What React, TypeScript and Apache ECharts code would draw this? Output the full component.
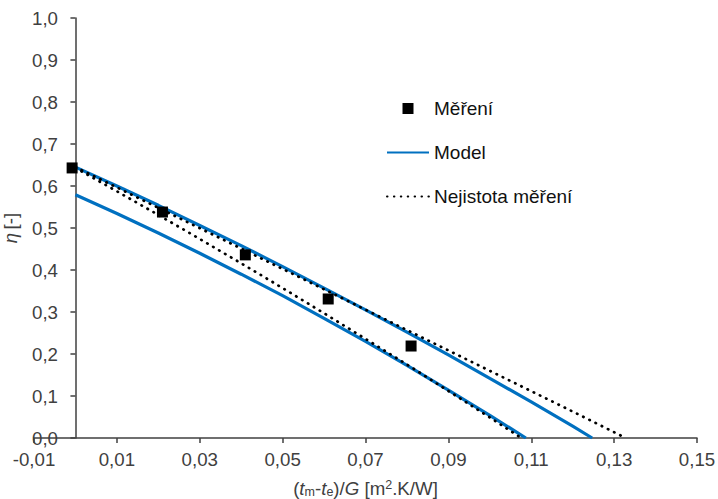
import React, { useEffect, useRef } from "react";
import * as echarts from "echarts";

// Measured points (x = (tm-te)/G, y = eta)
const measX = [-0.0008, 0.021, 0.041, 0.061, 0.081];
const measY = [0.643, 0.538, 0.436, 0.331, 0.219];

// Model curves
const modelUpperX = [0, 0.01, 0.02, 0.03, 0.04, 0.05, 0.06, 0.07, 0.08, 0.09, 0.1, 0.11, 0.12, 0.1247];
const modelUpperY = [0.645, 0.6, 0.554, 0.506, 0.458, 0.408, 0.357, 0.305, 0.252, 0.198, 0.142, 0.086, 0.028, 0];
const modelLowerX = [0, 0.01, 0.02, 0.03, 0.04, 0.05, 0.06, 0.07, 0.08, 0.09, 0.1, 0.1087];
const modelLowerY = [0.579, 0.5345, 0.488, 0.44, 0.39, 0.339, 0.285, 0.23, 0.173, 0.114, 0.054, 0];

// Measurement uncertainty curves
const uncUpperX = [0, 0.02, 0.04, 0.06, 0.08, 0.1, 0.12, 0.1328];
const uncUpperY = [0.645, 0.548, 0.451, 0.354, 0.257, 0.16, 0.063, 0];
const uncLowerX = [0, 0.01, 0.02, 0.03, 0.04, 0.05, 0.06, 0.07, 0.08, 0.09, 0.1, 0.1076];
const uncLowerY = [0.643, 0.5875, 0.531, 0.474, 0.416, 0.357, 0.297, 0.236, 0.175, 0.112, 0.049, 0];

const legendNames = ["Měření", "Model", "Nejistota měření"];

const zip = (xs: number[], ys: number[]) => xs.map((x, i) => [x, ys[i]]);

const FONT = "'Liberation Sans', Arial, sans-serif";
const TXT = "#404040";
const BLUE = "#0070C0";

export default function App() {
  const ref = useRef<HTMLDivElement>(null);
  useEffect(() => {
    if (!ref.current) return;
    const chart = echarts.init(ref.current, undefined, { renderer: "svg" });
    const base = { fontFamily: FONT, fontSize: 18.7, color: TXT, lineHeight: 20 };
    const dotted = { color: "#000", width: 2.7, type: [0.5, 6.4] as any, cap: "round" as any };
    chart.setOption({
      animation: false,
      backgroundColor: "#fff",
      grid: { left: 34, right: 21, top: 18, bottom: 61, containLabel: false, outerBoundsMode: "none" },
      legend: {
        orient: "vertical",
        left: 386,
        top: 99,
        padding: 0,
        itemWidth: 42,
        itemHeight: 11,
        itemGap: 25,
        textStyle: { fontFamily: FONT, fontSize: 19, color: "#111" },
        data: [
          { name: legendNames[0], icon: "path://M0,0L10,0L10,10L0,10Z", itemStyle: { color: "#000", opacity: 1 } },
          { name: legendNames[1], itemStyle: { opacity: 0 } },
          { name: legendNames[2], itemStyle: { opacity: 0 } },
        ],
      },
      xAxis: {
        type: "value",
        min: -0.01,
        max: 0.15,
        interval: 0.02,
        splitLine: { show: false },
        axisLine: { onZero: true, lineStyle: { color: TXT, width: 1.5 } },
        axisTick: { show: true, length: 5, lineStyle: { color: TXT, width: 1.5 } },
        axisLabel: {
          margin: 12,
          fontFamily: FONT,
          fontSize: 18.7,
          color: TXT,
          formatter: (v: number) => v.toFixed(2).replace(".", ","),
        },
        name: "{p|(}{i|t}{sub|m}{p|-}{i|t}{sub|e}{p|)/}{i|G}{p| [m}{sup|2}{p|.K/W]}",
        nameLocation: "middle",
        nameGap: 40,
        nameMoveOverlap: false,
        nameTextStyle: {
          rich: {
            p: { ...base },
            i: { ...base, fontStyle: "italic" },
            sub: { fontFamily: FONT, fontSize: 12.5, color: TXT, lineHeight: 12, verticalAlign: "bottom" },
            sup: { fontFamily: FONT, fontSize: 12.5, color: TXT, lineHeight: 12, verticalAlign: "top" },
          },
        },
      },
      yAxis: {
        type: "value",
        min: 0,
        max: 1,
        interval: 0.1,
        splitLine: { show: false },
        axisLine: { show: true, onZero: true, lineStyle: { color: TXT, width: 1.5 } },
        axisTick: { show: true, length: 5, lineStyle: { color: TXT, width: 1.5 } },
        axisLabel: {
          margin: -24,
          fontFamily: FONT,
          fontSize: 18.7,
          color: TXT,
          formatter: (v: number) => v.toFixed(1).replace(".", ","),
        },
        name: "{i|η} {p|[-]}",
        nameLocation: "middle",
        nameGap: 14,
        nameMoveOverlap: false,
        nameTextStyle: {
          rich: {
            p: { ...base },
            i: { ...base, fontStyle: "italic" },
          },
        },
      },
      series: [
        {
          name: legendNames[1],
          type: "line",
          data: zip(modelUpperX, modelUpperY),
          symbol: "none",
          lineStyle: { color: BLUE, width: 3.2 },
          itemStyle: { color: BLUE },
          z: 2,
        },
        {
          name: legendNames[1],
          type: "line",
          data: zip(modelLowerX, modelLowerY),
          symbol: "none",
          lineStyle: { color: BLUE, width: 3.2 },
          itemStyle: { color: BLUE },
          z: 2,
        },
        {
          name: legendNames[2],
          type: "line",
          data: zip(uncUpperX, uncUpperY),
          symbol: "none",
          lineStyle: dotted,
          itemStyle: { color: "#000" },
          z: 3,
        },
        {
          name: legendNames[2],
          type: "line",
          data: zip(uncLowerX, uncLowerY),
          symbol: "none",
          lineStyle: dotted,
          itemStyle: { color: "#000" },
          z: 3,
        },
        {
          name: legendNames[0],
          type: "scatter",
          data: zip(measX, measY),
          symbol: "rect",
          symbolSize: 11,
          itemStyle: { color: "#000", opacity: 1 },
          z: 4,
        },
      ],
    });
    return () => chart.dispose();
  }, []);
  return (
    <div
      ref={ref}
      style={{ position: "fixed", left: 0, top: 0, width: 718, height: 499, background: "#fff" }}
    />
  );
}
